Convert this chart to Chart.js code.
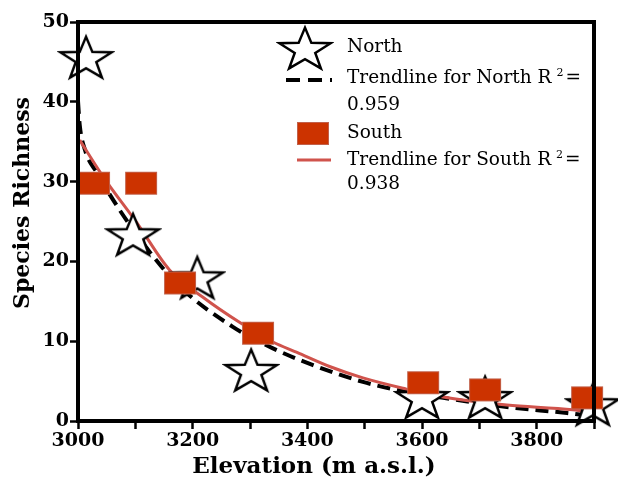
<!DOCTYPE html>
<html lang="en">
<head>
  <meta charset="UTF-8" />
  <title>Species Richness vs Elevation</title>
  <script src="https://cdn.jsdelivr.net/npm/chart.js"></script>
  <style>
    html, body { margin: 0; padding: 0; background: #fff; }
    #wrap { width: 618px; height: 483px; }
  </style>
</head>
<body>
  <div id="wrap"><canvas id="chart" width="618" height="483"></canvas></div>

  <script>
    // observed richness
    const northX = [3014, 3096, 3208, 3302, 3600, 3710, 3898];
    const northY = [45.6, 23.4, 18.0, 6.4, 3.0, 3.0, 2.1];
    const southX = [3028, 3110, 3178, 3314, 3602, 3710, 3888];
    const southY = [29.8, 29.8, 17.3, 11.0, 4.8, 3.9, 2.9];

    // trendlines
    const northTrendX = [3000, 3003, 3012, 3033, 3073, 3126, 3178, 3270, 3340, 3410, 3497, 3556, 3637, 3748, 3853, 3881];
    const northTrendY = [40.1, 37.1, 34.0, 31.1, 26.4, 21.1, 16.8, 11.8, 9.1, 7.0, 4.9, 3.9, 2.9, 1.75, 1.0, 0.75];
    const southTrendX = [3003, 3044, 3103, 3160, 3218, 3283, 3340, 3382, 3440, 3497, 3567, 3637, 3748, 3863, 3898];
    const southTrendY = [35.2, 30.6, 24.8, 18.9, 15.5, 12.3, 9.9, 8.6, 6.8, 5.4, 4.1, 3.0, 2.0, 1.4, 1.0];

    const xLabels = ['3000', '3200', '3400', '3600', '3800'];
    const legendLabels = ['North', 'Trendline for North R', '0.959', 'South', 'Trendline for South R', '0.938'];

    const SQUARE_RED = '#cc3300';
    const LINE_RED = '#d0534c';

    function pts(xs, ys) {
      return xs.map((x, i) => ({ x: x, y: ys[i] }));
    }

    function drawStar(ctx, cx, cy, rx, ry) {
      ctx.beginPath();
      for (let i = 0; i < 10; i++) {
        const r = i % 2 === 0 ? 1 : 0.4;
        const a = -Math.PI / 2 + i * Math.PI / 5;
        const px = cx + Math.cos(a) * rx * r;
        const py = cy + Math.sin(a) * ry * r;
        if (i === 0) ctx.moveTo(px, py); else ctx.lineTo(px, py);
      }
      ctx.closePath();
      ctx.fillStyle = '#fff';
      ctx.fill();
      ctx.lineWidth = 2.5;
      ctx.strokeStyle = '#000';
      ctx.lineJoin = 'miter';
      ctx.stroke();
    }

    function makeStar() {
      const c = document.createElement('canvas');
      c.width = 58; c.height = 48;
      const ctx = c.getContext('2d');
      const rx = 27, ry = 22.5;
      drawStar(ctx, 29, 24 + 0.095 * ry, rx, ry);
      return c;
    }

    function makeSquare() {
      const c = document.createElement('canvas');
      c.width = 34; c.height = 25;
      const ctx = c.getContext('2d');
      ctx.fillStyle = SQUARE_RED;
      ctx.fillRect(1, 1, 32, 23);
      ctx.strokeStyle = '#c2604a';
      ctx.lineWidth = 1;
      ctx.strokeRect(1.5, 1.5, 31, 22);
      return c;
    }

    const starImg = makeStar();
    const squareImg = makeSquare();

    const frameAndText = {
      id: 'frameAndText',
      afterDraw(chart) {
        const ctx = chart.ctx;
        const a = chart.chartArea;
        ctx.save();
        ctx.strokeStyle = '#000';
        ctx.lineWidth = 4;
        ctx.strokeRect(a.left, a.top, a.right - a.left, a.bottom - a.top);

        // axis titles
        ctx.fillStyle = '#000';
        ctx.font = 'bold 23px "DejaVu Serif"';
        ctx.textAlign = 'center';
        ctx.textBaseline = 'middle';
        ctx.fillText('Elevation (m a.s.l.)', 314, 467);
        ctx.save();
        ctx.translate(23, 203);
        ctx.rotate(-Math.PI / 2);
        ctx.font = 'bold 22px "DejaVu Serif"';
        ctx.fillText('Species Richness', 0, 0);
        ctx.restore();

        // legend
        ctx.drawImage(starImg, 305 - 29, 48 - 24);
        ctx.lineWidth = 4;
        ctx.setLineDash([14, 8]);
        ctx.beginPath();
        ctx.moveTo(286, 80); ctx.lineTo(332, 80);
        ctx.stroke();
        ctx.setLineDash([]);
        ctx.drawImage(squareImg, 313 - 17, 133 - 12);
        ctx.strokeStyle = LINE_RED;
        ctx.lineWidth = 3;
        ctx.beginPath();
        ctx.moveTo(297, 160); ctx.lineTo(331, 160);
        ctx.stroke();

        ctx.textAlign = 'left';
        const tx = 347;
        const rows = [47, 78, 105, 133, 160, 184];
        const f = '18.5px "DejaVu Serif"';
        legendLabels.forEach((t, i) => {
          ctx.font = f;
          ctx.fillText(t, tx, rows[i]);
          if (i === 1 || i === 4) {
            const w = ctx.measureText(t).width;
            ctx.font = '11px "DejaVu Serif"';
            ctx.fillText('2', tx + w + 5, rows[i] - 5);
            ctx.font = f;
            ctx.fillText('=', tx + w + 14, rows[i]);
          }
        });
        ctx.restore();
      }
    };

    new Chart(document.getElementById('chart'), {
      type: 'scatter',
      data: {
        datasets: [
          {
            label: 'South',
            data: pts(southX, southY),
            pointStyle: squareImg,
            order: 0,
            clip: false
          },
          {
            label: 'North',
            data: pts(northX, northY),
            pointStyle: starImg,
            order: 1,
            clip: false
          },
          {
            label: 'Trendline for South',
            type: 'line',
            data: pts(southTrendX, southTrendY),
            borderColor: LINE_RED,
            borderWidth: 3,
            pointRadius: 0,
            cubicInterpolationMode: 'monotone',
            order: 2,
            clip: false
          },
          {
            label: 'Trendline for North',
            type: 'line',
            data: pts(northTrendX, northTrendY),
            borderColor: '#000',
            borderWidth: 4,
            borderDash: [13, 7],
            pointRadius: 0,
            cubicInterpolationMode: 'monotone',
            order: 3,
            clip: false
          }
        ]
      },
      options: {
        responsive: false,
        animation: false,
        events: [],
        layout: { padding: { top: 22, right: 24, left: 0, bottom: 0 } },
        plugins: {
          legend: { display: false },
          tooltip: { enabled: false }
        },
        scales: {
          x: {
            type: 'linear',
            min: 3000,
            max: 3900,
            afterFit(s) { s.height = 62; },
            ticks: {
              stepSize: 100,
              color: '#000',
              padding: 1,
              maxRotation: 0,
              autoSkip: false,
              font: { family: 'DejaVu Serif', size: 19, weight: 'bold' },
              callback(v) {
                const s = String(v);
                return xLabels.includes(s) ? s : '';
              }
            },
            grid: { drawOnChartArea: false, tickLength: 8, tickWidth: 2.5, tickColor: '#000' },
            border: { color: '#000', width: 4 }
          },
          y: {
            min: 0,
            max: 50,
            afterFit(s) { s.width = 78; },
            ticks: {
              stepSize: 10,
              color: '#000',
              padding: 1,
              font: { family: 'DejaVu Serif', size: 19, weight: 'bold' }
            },
            grid: { drawOnChartArea: false, tickLength: 8, tickWidth: 2.5, tickColor: '#000' },
            border: { color: '#000', width: 4 }
          }
        }
      },
      plugins: [frameAndText]
    });
  </script>
</body>
</html>
